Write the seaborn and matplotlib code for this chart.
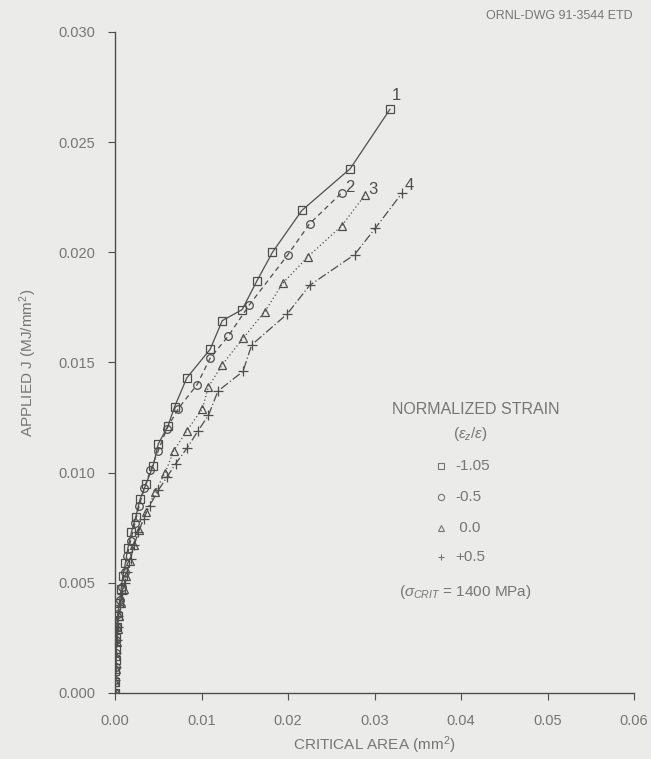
import matplotlib
matplotlib.use("Agg")
import matplotlib.pyplot as plt
from matplotlib.lines import Line2D
import seaborn as sns
import pandas as pd

# Critical area (mm^2) and applied J (MJ/mm^2) for each normalized strain
area_m105 = [0, 0.00002, 0.00004, 0.00006, 0.0001, 0.00015, 0.0002, 0.0003, 0.0005, 0.0007,
             0.0009, 0.0012, 0.0015, 0.0019, 0.0024, 0.0029, 0.0036, 0.0044, 0.0050, 0.0061,
             0.0069, 0.0083, 0.0110, 0.0124, 0.0147, 0.0164, 0.0182, 0.0216, 0.0272, 0.0318]
j_m105 = [0, 0.0005, 0.0010, 0.0015, 0.0020, 0.0025, 0.0030, 0.0035, 0.0041, 0.0047,
          0.0053, 0.0059, 0.0066, 0.0073, 0.0080, 0.0088, 0.0095, 0.0103, 0.0113, 0.0121,
          0.0130, 0.0143, 0.0156, 0.0169, 0.0174, 0.0187, 0.0200, 0.0219, 0.0238, 0.0265]

area_m05 = [0, 0.00003, 0.00006, 0.0001, 0.00016, 0.00025, 0.0004, 0.0006, 0.0008, 0.0011,
            0.0014, 0.0018, 0.0023, 0.0028, 0.0034, 0.0041, 0.0050, 0.0060, 0.0073, 0.0095,
            0.0110, 0.0131, 0.0155, 0.0200, 0.0225, 0.0262]
j_m05 = [0, 0.0006, 0.0012, 0.0018, 0.0024, 0.0030, 0.0036, 0.0042, 0.0048, 0.0055,
         0.0062, 0.0069, 0.0077, 0.0085, 0.0093, 0.0101, 0.0110, 0.0120, 0.0129, 0.0140,
         0.0152, 0.0162, 0.0176, 0.0199, 0.0213, 0.0227]

area_0 = [0, 0.00004, 0.00008, 0.00013, 0.0002, 0.0003, 0.00045, 0.0007, 0.0010, 0.0013,
          0.0017, 0.0022, 0.0028, 0.0036, 0.0046, 0.0058, 0.0068, 0.0083, 0.0101, 0.0108,
          0.0124, 0.0148, 0.0173, 0.0194, 0.0223, 0.0262, 0.0289]
j_0 = [0, 0.0005, 0.0011, 0.0017, 0.0023, 0.0029, 0.0035, 0.0041, 0.0047, 0.0053,
       0.0060, 0.0067, 0.0074, 0.0082, 0.0091, 0.0100, 0.0110, 0.0119, 0.0129, 0.0139,
       0.0149, 0.0161, 0.0173, 0.0186, 0.0198, 0.0212, 0.0226]

area_p05 = [0, 0.00005, 0.0001, 0.00015, 0.00022, 0.0003, 0.0004, 0.0006, 0.0008, 0.0011,
            0.0014, 0.0018, 0.0022, 0.0027, 0.0033, 0.0040, 0.0050, 0.0060, 0.0070, 0.0083,
            0.0096, 0.0108, 0.0119, 0.0148, 0.0158, 0.0199, 0.0225, 0.0277, 0.0301, 0.0332]
j_p05 = [0, 0.0006, 0.0012, 0.0018, 0.0024, 0.0030, 0.0035, 0.0040, 0.0045, 0.0050,
         0.0055, 0.0061, 0.0067, 0.0073, 0.0079, 0.0085, 0.0092, 0.0098, 0.0104, 0.0111,
         0.0119, 0.0126, 0.0137, 0.0146, 0.0158, 0.0172, 0.0185, 0.0199, 0.0211, 0.0227]

strain_labels = ["-1.05", "-0.5", " 0.0", "+0.5"]
curve_ids = ["1", "2", "3", "4"]
x_ticks = [0.00, 0.01, 0.02, 0.03, 0.04, 0.05, 0.06]
y_ticks = [0.000, 0.005, 0.010, 0.015, 0.020, 0.025, 0.030]

series = [(area_m105, j_m105), (area_m05, j_m05), (area_0, j_0), (area_p05, j_p05)]

BG = "#ebebe9"
INK = "#4e4e4e"
TXT = "#767676"
FONT = ["Liberation Sans", "DejaVu Sans"]

sns.set_style("ticks")
plt.rcParams["font.family"] = FONT
plt.rcParams["mathtext.fontset"] = "custom"
plt.rcParams["mathtext.rm"] = "Liberation Sans"
plt.rcParams["mathtext.it"] = "Liberation Sans:italic"

W, H = 651, 759
fig = plt.figure(figsize=(W / 100, H / 100), dpi=100, facecolor=BG)
ax = fig.add_axes([115 / W, 1 - 693 / H, (634 - 115) / W, (693 - 32) / H])
ax.set_facecolor(BG)

markers = ["s", "o", "^", "+"]
linestyles = ["-", (0, (4, 3)), (0, (1, 2)), (0, (7, 2, 1, 2))]

for (xs, ys), mk, ls in zip(series, markers, linestyles):
    d = pd.DataFrame({"area": xs, "J": ys})
    sns.lineplot(data=d, x="area", y="J", sort=False, estimator=None, ax=ax,
                 color=INK, linewidth=0.9, linestyle=ls,
                 marker=mk, markersize=5.5 if mk != "+" else 6.5,
                 markerfacecolor="none", markeredgecolor=INK, markeredgewidth=0.9)

# Curve numbers at the end of each line
end_offsets = [(0.0002, 0.0003), (0.0004, -0.0001), (0.0004, -0.0001), (0.0003, 0.0000)]
for cid, (xs, ys), (dx, dy) in zip(curve_ids, series, end_offsets):
    ax.text(xs[-1] + dx, ys[-1] + dy, cid, fontsize=12, color=INK,
            ha="left", va="bottom")

ax.set_xlim(0, 0.06)
ax.set_ylim(0, 0.030)
ax.set_xticks(x_ticks)
ax.set_yticks(y_ticks)
ax.set_xticklabels([f"{v:.2f}" for v in x_ticks])
ax.set_yticklabels([f"{v:.3f}" for v in y_ticks])
ax.tick_params(colors=INK, labelcolor=TXT, labelsize=10.5, length=5, width=0.8)
ax.tick_params(axis="x", pad=10)
ax.tick_params(axis="y", pad=9)
for side in ("top", "right"):
    ax.spines[side].set_visible(False)
for side in ("left", "bottom"):
    ax.spines[side].set_color(INK)
    ax.spines[side].set_linewidth(1.0)

ax.set_xlabel("CRITICAL AREA (mm$^2$)", fontsize=11, color=TXT, labelpad=5)
ax.set_ylabel("APPLIED J (MJ/mm$^2$)", fontsize=11, color=TXT, labelpad=14)

# Legend block: heading, symbol key and critical stress note
def fx(px):
    return px / W

def fy(py):
    return 1 - py / H

fig.text(fx(476), fy(410), "NORMALIZED STRAIN", fontsize=11.5, color=TXT,
         ha="center", va="center")
fig.text(fx(470), fy(434), "($\\epsilon_z/\\epsilon$)", fontsize=11, color=TXT,
         ha="center", va="center")
row_y = [466, 497, 528, 557]
for mk, lab, py in zip(markers, strain_labels, row_y):
    fig.add_artist(Line2D([fx(441)], [fy(py)], transform=fig.transFigure,
                          linestyle="none", marker=mk, markersize=4.5,
                          markerfacecolor="none", markeredgecolor=TXT,
                          markeredgewidth=0.8))
    fig.text(fx(455), fy(py), lab, fontsize=11, color=TXT, ha="left", va="center")

fig.text(fx(465), fy(592), "($\\sigma_{CRIT}$ = 1400 MPa)", fontsize=11, color=TXT,
         ha="center", va="center")
fig.text(fx(633), fy(16), "ORNL-DWG 91-3544 ETD", fontsize=9, color=TXT,
         ha="right", va="center")

fig.savefig("out.png", dpi=100, facecolor=BG)
